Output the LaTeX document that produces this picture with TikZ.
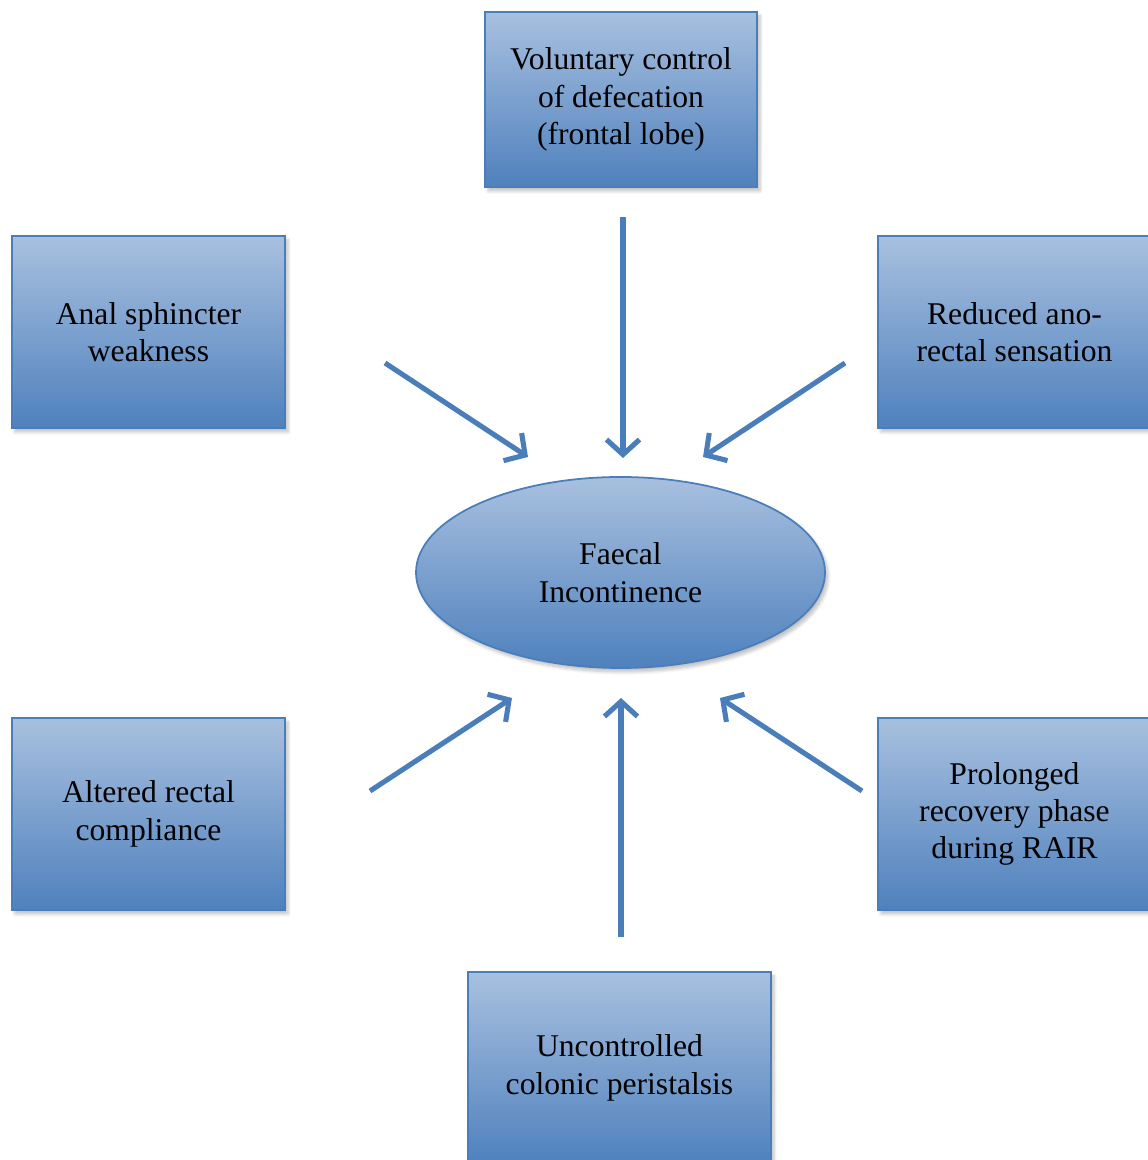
\documentclass[tikz,border=0pt]{standalone}
\usepackage{fontspec}
\setmainfont{Liberation Serif}
\usetikzlibrary{arrows.meta,shapes.geometric,shadows.blur}
\definecolor{boxtop}{RGB}{168,192,223}
\definecolor{boxbot}{RGB}{79,129,189}
\definecolor{boxline}{RGB}{74,126,187}
\tikzset{
  cause/.style={draw=boxline,line width=1pt,top color=boxtop,bottom color=boxbot,
    minimum width=5.46cm,minimum height=3.84cm,align=center,
    font=\fontsize{18}{21.3}\selectfont,
    blur shadow={shadow xshift=0.06cm,shadow yshift=-0.08cm,shadow opacity=25,shadow blur steps=6}},
  effect/.style={cause,ellipse,minimum width=8.18cm,minimum height=3.82cm,inner sep=0pt},
  push/.style={boxline,line width=2.9pt,-{Straight Barb[length=3mm,width=6.6mm,line width=2.9pt]}}
}
\begin{document}
\begin{tikzpicture}
        \useasboundingbox (0,0) rectangle (22.96,23.2);

        % 中心
        \node[effect] (fi) at (12.41,11.75) {Faecal\\Incontinence};

        % 原因
        \node[cause,minimum width=5.44cm,minimum height=3.5cm] (vol) at (12.42,21.21) {Voluntary control\\of defecation\\(frontal lobe)};
        \node[cause] (anal) at (2.97,16.56) {Anal sphincter\\weakness};
        \node[cause] (sens) at (20.29,16.56) {Reduced ano-\\rectal sensation};
        \node[cause] (comp) at (2.97,6.92) {Altered rectal\\compliance};
        \node[cause] (rair) at (20.29,6.92) {Prolonged\\recovery phase\\during RAIR};
        \node[cause,minimum width=6.06cm] (peri) at (12.39,1.84) {Uncontrolled\\colonic peristalsis};

        % 箭头端点
        \coordinate (vol s) at (12.46,18.86);  \coordinate (vol e) at (12.46,14.04);
        \coordinate (anal s) at (7.70,15.94);  \coordinate (anal e) at (10.56,14.06);
        \coordinate (sens s) at (16.90,15.94); \coordinate (sens e) at (14.06,14.06);
        \coordinate (comp s) at (7.40,7.38);   \coordinate (comp e) at (10.24,9.24);
        \coordinate (peri s) at (12.42,4.46);  \coordinate (peri e) at (12.42,9.24);
        \coordinate (rair s) at (17.24,7.38);  \coordinate (rair e) at (14.40,9.24);

        % 箭头
        \foreach \c in {vol,anal,sens,comp,peri,rair}
          \draw[push] (\c\space s) -- (\c\space e);
    \end{tikzpicture}
\end{document}
